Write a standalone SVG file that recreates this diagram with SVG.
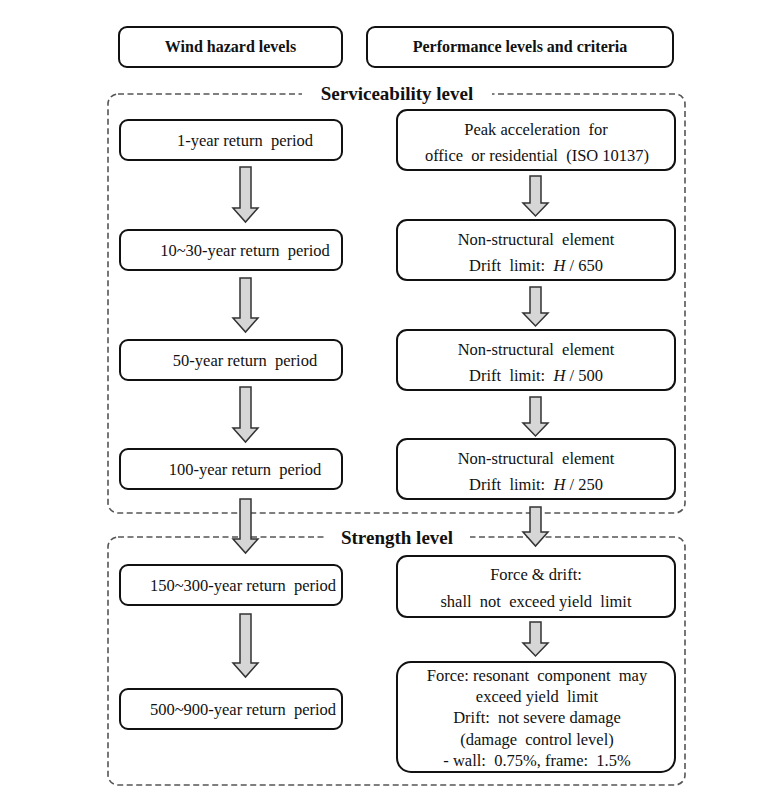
<svg xmlns="http://www.w3.org/2000/svg" width="765" height="799" viewBox="0 0 765 799">
<style>
.box{fill:#fff;stroke:#111;stroke-width:2}
.dash{fill:none;stroke:#555;stroke-width:1.6;stroke-dasharray:6 3.5}
.arr{fill:#d6d6d6;stroke:#333;stroke-width:1.5;stroke-linejoin:miter}
text{font-family:"Liberation Serif","Times New Roman",serif;font-size:16.5px;fill:#111;text-anchor:middle;white-space:pre}
.h{font-weight:bold;font-size:16px}
.b{font-weight:bold;font-size:19px}
.lab{fill:#fff}
</style>
<rect width="765" height="799" fill="#fff"/>
<g id="serviceability">
<rect class="dash" x="108" y="94" width="577" height="419" rx="10"/>
<rect class="lab" x="302" y="83" width="190" height="22"/>
<text class="b" x="397" y="100">Serviceability level</text>
</g>
<g id="strength">
<rect class="dash" x="108" y="537" width="577" height="248" rx="10"/>
<rect class="lab" x="324" y="526" width="146" height="22"/>
<text class="b" x="397" y="544">Strength level</text>
</g>
<g id="connectors">
<path class="arr" d="M240 167H251V208H258L245.5 222L233 208H240Z"/>
<path class="arr" d="M240 278H251V318H258L245.5 332L233 318H240Z"/>
<path class="arr" d="M240 387H251V428H258L245.5 442L233 428H240Z"/>
<path class="arr" d="M240 499H251V539H258L245.5 553L233 539H240Z"/>
<path class="arr" d="M240 614H251V663H258L245.5 677L233 663H240Z"/>
<path class="arr" d="M530 176H541V203H548L535.5 216L523 203H530Z"/>
<path class="arr" d="M530 287H541V313H548L535.5 326L523 313H530Z"/>
<path class="arr" d="M530 397H541V423H548L535.5 436L523 423H530Z"/>
<path class="arr" d="M530 507H541V532H548L535.5 546L523 532H530Z"/>
<path class="arr" d="M530 622H541V643H548L535.5 656L523 643H530Z"/>
</g>
<g id="h1"><rect class="box" x="119" y="27" width="223" height="40" rx="8"/><text class="h" x="230.5" y="52">Wind hazard levels</text></g>
<g id="h2"><rect class="box" x="367" y="27" width="306" height="40" rx="8"/><text class="h" x="520" y="52">Performance levels and criteria</text></g>
<g id="l1"><rect class="box" x="120" y="120" width="222" height="40" rx="8"/><text x="245" y="145.5">1-year return  period</text></g>
<g id="l2"><rect class="box" x="120" y="230" width="222" height="40" rx="8"/><text x="245" y="255.5">10~30-year return  period</text></g>
<g id="l3"><rect class="box" x="120" y="340" width="222" height="40" rx="8"/><text x="245" y="365.5">50-year return  period</text></g>
<g id="l4"><rect class="box" x="120" y="449" width="222" height="40" rx="8"/><text x="245" y="474.5">100-year return  period</text></g>
<g id="l5"><rect class="box" x="120" y="565" width="222" height="40" rx="8"/><text x="243" y="590.5">150~300-year return  period</text></g>
<g id="l6"><rect class="box" x="120" y="689" width="222" height="40" rx="8"/><text x="243" y="714.5">500~900-year return  period</text></g>
<g id="r1"><rect class="box" x="397" y="110" width="278" height="60" rx="10"/><text x="536" y="135">Peak acceleration  for</text><text x="537" y="161">office  or residential  (ISO 10137)</text></g>
<g id="r2"><rect class="box" x="397" y="220" width="278" height="60" rx="10"/><text x="536" y="245">Non-structural  element</text><text x="536" y="271">Drift  limit:  <tspan font-style="italic">H</tspan> / 650</text></g>
<g id="r3"><rect class="box" x="397" y="330" width="278" height="60" rx="10"/><text x="536" y="355">Non-structural  element</text><text x="536" y="381">Drift  limit:  <tspan font-style="italic">H</tspan> / 500</text></g>
<g id="r4"><rect class="box" x="397" y="439" width="278" height="60" rx="10"/><text x="536" y="464">Non-structural  element</text><text x="536" y="490">Drift  limit:  <tspan font-style="italic">H</tspan> / 250</text></g>
<g id="r5"><rect class="box" x="397" y="556" width="278" height="61" rx="10"/><text x="536" y="580">Force &amp; drift:</text><text x="536" y="607">shall  not  exceed yield  limit</text></g>
<g id="r6"><rect class="box" x="397" y="662" width="278" height="110" rx="14"/>
<text x="537" y="681">Force: resonant  component  may</text>
<text x="537" y="702">exceed yield  limit</text>
<text x="537" y="723">Drift:  not severe damage</text>
<text x="537" y="745">(damage  control level)</text>
<text x="537" y="766">- wall:  0.75%, frame:  1.5%</text></g>
</svg>
